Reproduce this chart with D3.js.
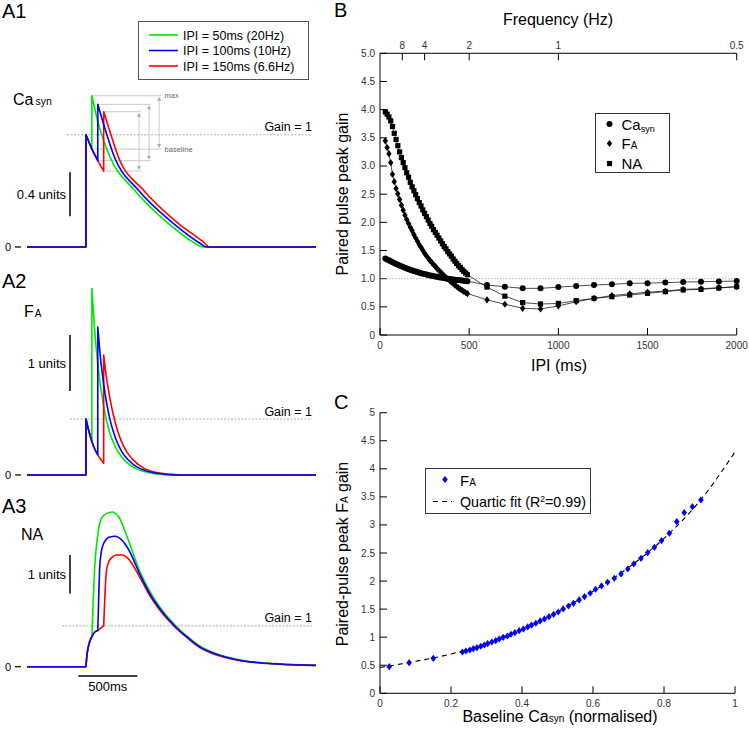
<!DOCTYPE html>
<html><head><meta charset="utf-8">
<script src="https://cdn.jsdelivr.net/npm/d3@7"></script>
<style>body{margin:0;background:#fff}svg{display:block;font-family:Arial,"Liberation Sans",sans-serif}</style>
</head><body><svg id="c" width="749" height="730"></svg>
<script>
// ---------------- DATA ----------------
// Panel A: traces after the first pulse at t=0 (ms), values in units
const ipiA = [50, 100, 150];
const ipiLabels = ["IPI = 50ms (20Hz)", "IPI = 100ms (10Hz)", "IPI = 150ms (6.6Hz)"];
const traceColors = ["#00e600", "#0000ff", "#ff0000"];

const caPre = [[-500, 0], [0, 0]];
const caFirst = [[0, 1.02], [50, 0.89], [100, 0.785], [150, 0.69]];
const caSecond = [
  [[50, 1.375], [104, 1.125], [203, 0.821], [409, 0.518], [697, 0.215], [924, 0.034], [994, 0], [1950, 0]],
  [[100, 1.297], [147, 1.125], [240, 0.821], [443, 0.518], [740, 0.215], [966, 0.034], [1019, 0], [1950, 0]],
  [[150, 1.23], [200, 1.06], [274, 0.821], [486, 0.518], [782, 0.215], [1008, 0.034], [1045, 0], [1950, 0]]
];
const caGain = 1.02;

const faPre = [[-500, 0], [0, 0]];
const faFirst = [[0, 1.0], [25, 0.78], [50, 0.60], [75, 0.46], [100, 0.36], [125, 0.28], [150, 0.21]];
const faSecond = [
  [[50, 3.33], [75, 2.55], [100, 1.98], [150, 1.22], [200, 0.76], [250, 0.50], [300, 0.33], [400, 0.14], [500, 0.06], [600, 0.02], [750, 0], [1950, 0]],
  [[100, 2.64], [125, 2.05], [150, 1.62], [200, 1.02], [250, 0.66], [300, 0.43], [400, 0.19], [500, 0.08], [600, 0.03], [750, 0], [1950, 0]],
  [[150, 2.14], [175, 1.72], [200, 1.40], [250, 0.92], [300, 0.60], [350, 0.40], [400, 0.27], [500, 0.11], [600, 0.045], [750, 0.01], [900, 0], [1950, 0]]
];
const faGain = 1.0;

const naPre = [[-500, 0], [0, 0]];
const naFirst = [[0, 0], [8, 0.3], [20, 0.52], [35, 0.68], [50, 0.78], [75, 0.9], [100, 0.94], [125, 1.0], [150, 1.06]];
const naSecond = [
  [[50, 0.78], [60, 1.6], [70, 2.35], [80, 2.85], [95, 3.3], [115, 3.7], [150, 3.93], [220, 4.02], [280, 3.88], [360, 3.28], [460, 2.45], [550, 1.91], [630, 1.53], [771, 1.03], [870, 0.76], [968, 0.53], [1100, 0.34], [1250, 0.21], [1393, 0.13], [1600, 0.08], [1816, 0.05], [1950, 0.04]],
  [[100, 0.94], [107, 1.7], [115, 2.5], [125, 2.88], [150, 3.2], [200, 3.37], [248, 3.39], [300, 3.3], [360, 3.05], [460, 2.38], [550, 1.85], [630, 1.49], [771, 1.0], [870, 0.74], [968, 0.51], [1100, 0.33], [1250, 0.2], [1393, 0.125], [1600, 0.075], [1816, 0.045], [1950, 0.035]],
  [[150, 1.06], [160, 1.8], [172, 2.45], [190, 2.7], [220, 2.84], [260, 2.9], [305, 2.9], [360, 2.8], [460, 2.3], [550, 1.80], [630, 1.45], [771, 0.98], [870, 0.72], [968, 0.49], [1100, 0.31], [1250, 0.19], [1393, 0.12], [1600, 0.07], [1816, 0.04], [1950, 0.03]]
];
const naGain = 1.06;

// Panel B: paired pulse peak gain vs IPI
const ipiDense = [30,40,50,60,70,80,90,100,110,120,130,140,150,160,170,180,190,200,210,220,230,240,250,260,270,280,290,300,310,320,330,340,350,360,370,380,390,400,410,420,430,440,450,460,470,480,490];
const ipiSparse = [600,700,800,900,1000,1100,1200,1300,1400,1500,1600,1700,1800,1900,2000];
const caDense = [1.360,1.342,1.325,1.308,1.292,1.276,1.261,1.247,1.233,1.219,1.206,1.193,1.181,1.169,1.158,1.147,1.136,1.126,1.116,1.107,1.098,1.089,1.081,1.073,1.065,1.058,1.051,1.044,1.038,1.032,1.026,1.020,1.015,1.010,1.005,1.000,0.995,0.991,0.986,0.982,0.978,0.974,0.970,0.966,0.962,0.958,0.955];
const faDense = [3.446,3.326,3.219,3.059,2.852,2.721,2.602,2.506,2.406,2.305,2.216,2.127,2.050,1.979,1.913,1.854,1.783,1.722,1.663,1.604,1.556,1.503,1.449,1.408,1.365,1.324,1.289,1.248,1.217,1.182,1.146,1.116,1.080,1.052,1.021,0.998,0.968,0.938,0.914,0.884,0.861,0.838,0.813,0.795,0.772,0.754,0.736];
const naDense = [3.96,3.92,3.87,3.80,3.70,3.58,3.47,3.36,3.25,3.15,3.06,2.97,2.88,2.80,2.71,2.63,2.56,2.49,2.42,2.35,2.29,2.22,2.16,2.10,2.04,1.98,1.93,1.87,1.82,1.77,1.72,1.67,1.62,1.57,1.53,1.48,1.44,1.40,1.35,1.31,1.27,1.23,1.20,1.16,1.13,1.10,1.07];
const caSparse = [0.887,0.857,0.828,0.828,0.85,0.87,0.887,0.90,0.917,0.92,0.93,0.94,0.946,0.95,0.958];
const faSparse = [0.624,0.546,0.474,0.462,0.515,0.59,0.65,0.70,0.73,0.76,0.78,0.81,0.82,0.84,0.857];
const naSparse = [0.85,0.69,0.575,0.55,0.56,0.61,0.65,0.68,0.71,0.74,0.77,0.80,0.81,0.834,0.857];
const freqLabels = ["8", "4", "2", "1", "0.5"];
const freqIPI = [125, 250, 500, 1000, 2000];
const bYTicks = [0,0.5,1,1.5,2,2.5,3,3.5,4,4.5,5];
const bXTicks = [0,500,1000,1500,2000];

// Panel C: F_A gain vs baseline Ca_syn (normalised)
const baselineDense = [0.904,0.880,0.857,0.836,0.815,0.793,0.773,0.754,0.735,0.715,0.698,0.679,0.660,0.641,0.624,0.607,0.592,0.576,0.561,0.545,0.531,0.516,0.502,0.489,0.476,0.463,0.451,0.439,0.427,0.416,0.404,0.392,0.380,0.369,0.359,0.347,0.336,0.326,0.315,0.303,0.294,0.284,0.273,0.263,0.253,0.242,0.232];
const baselineSparse = [0.150, 0.082, 0.026];
const fitX = [0,0.1,0.2,0.3,0.4,0.5,0.6,0.7,0.8,0.9,1.0];
const fitY = [0.46,0.57,0.70,0.875,1.13,1.45,1.82,2.24,2.76,3.42,4.30];
const cYTicks = [0,0.5,1,1.5,2,2.5,3,3.5,4,4.5,5];
const cXTicks = [0,0.2,0.4,0.6,0.8,1];

// ---------------- DRAW ----------------
const svg = d3.select("#c");
const txt = (x, y, s, size, opts = {}) => {
  const t = svg.append("text").attr("x", x).attr("y", y).attr("font-size", size)
    .attr("fill", opts.fill || "#000").attr("text-anchor", opts.anchor || "start").text(s);
  if (opts.baseline) t.attr("dominant-baseline", opts.baseline);
  return t;
};

// ---- Panel A ----
const xA = d3.scaleLinear().domain([-500, 1950]).range([27, 316]);
const yA1 = d3.scaleLinear().domain([0, 1]).range([247, 137]);
const yA2 = d3.scaleLinear().domain([0, 1]).range([475, 419]);
const yA3 = d3.scaleLinear().domain([0, 1]).range([666.7, 628.2]);

function segPath(pts, ys, curve) {
  return d3.line().x(d => xA(d[0])).y(d => ys(d[1])).curve(curve)(pts);
}
function tracePath(segs, ys) {
  return segs.map((s, i) => { const p = segPath(s[0], ys, s[1]); return i ? p.replace(/^M/, "L") : p; }).join("");
}
function drawTraces(pre, first, second, ys, firstCurve) {
  [0, 2, 1].forEach(i => {
    const ipi = ipiA[i];
    const segs = [[pre, d3.curveLinear], [first.filter(d => d[0] <= ipi), firstCurve], [second[i], d3.curveMonotoneX]];
    svg.append("path").attr("d", tracePath(segs, ys)).attr("fill", "none")
      .attr("stroke", traceColors[i]).attr("stroke-width", 1.6).attr("stroke-linejoin", "round");
  });
}
function gainLine(ys, v, x0) {
  svg.append("line").attr("x1", x0).attr("x2", 312).attr("y1", ys(v)).attr("y2", ys(v))
    .attr("stroke", "#888").attr("stroke-width", 0.7).attr("stroke-dasharray", "2,1.5");
  txt(312, ys(v) - 3.5, "Gain = 1", 12.5, { anchor: "end" });
}
function zeroLabel(ys) {
  txt(5, ys(0) + 4, "0", 11);
  svg.append("line").attr("x1", 15).attr("x2", 21).attr("y1", ys(0)).attr("y2", ys(0)).attr("stroke", "#000").attr("stroke-width", 1.2);
}
function scaleBar(ys, v0, v1, label) {
  svg.append("line").attr("x1", 70).attr("x2", 70).attr("y1", ys(v0)).attr("y2", ys(v1)).attr("stroke", "#000").attr("stroke-width", 1.5);
  txt(66, (ys(v0) + ys(v1)) / 2 + 4.5, label, 13, { anchor: "end" });
}

// A1
txt(2, 18, "A1", 20);
gainLine(yA1, caGain, 67);
// annotation (max / baseline arrows)
const arrowT = [620, 535, 450];
[0, 1, 2].forEach(i => {
  const ipi = ipiA[i];
  const peak = caSecond[i][0][1];
  const base = caFirst.find(d => d[0] === ipi)[1];
  const xs = xA(ipi), xe = xA(arrowT[i]);
  const g = svg.append("g").attr("stroke", "#bbb").attr("stroke-width", 0.8);
  g.append("line").attr("x1", xs).attr("x2", xe + 2).attr("y1", yA1(peak)).attr("y2", yA1(peak));
  g.append("line").attr("x1", xs).attr("x2", xe + 2).attr("y1", yA1(base)).attr("y2", yA1(base));
  g.append("line").attr("x1", xe).attr("x2", xe).attr("y1", yA1(peak) + 2).attr("y2", yA1(base) - 2);
  const yt = yA1(peak), yb = yA1(base);
  svg.append("path").attr("d", `M${xe},${yt + 1}L${xe - 2},${yt + 5}L${xe + 2},${yt + 5}Z`).attr("fill", "#aaa");
  svg.append("path").attr("d", `M${xe},${yb - 1}L${xe - 2},${yb - 5}L${xe + 2},${yb - 5}Z`).attr("fill", "#aaa");
});
txt(xA(arrowT[0]) + 5.5, yA1(caSecond[0][0][1]) + 2.5, "max", 7.5, { fill: "#666" });
txt(xA(arrowT[0]) + 5.5, yA1(caFirst.find(d => d[0] === 50)[1]) + 2.5, "baseline", 7.5, { fill: "#666" });
drawTraces(caPre, caFirst, caSecond, yA1, d3.curveLinear);
zeroLabel(yA1);
scaleBar(yA1, 0.28, 0.68, "0.4 units");
const lab1 = txt(13, 105, "Ca", 16);
lab1.append("tspan").attr("font-size", 10.5).attr("dx", 2).text("syn");

// legend A
svg.append("rect").attr("x", 138.5).attr("y", 21.5).attr("width", 170).attr("height", 58)
  .attr("fill", "#fff").attr("stroke", "#555").attr("stroke-width", 1);
[0, 1, 2].forEach(i => {
  const y = 35 + i * 15.5;
  svg.append("line").attr("x1", 149).attr("x2", 178).attr("y1", y).attr("y2", y).attr("stroke", traceColors[i]).attr("stroke-width", 1.6);
  txt(183, y + 4.5, ipiLabels[i], 12.5);
});

// A2
txt(2, 288, "A2", 20);
gainLine(yA2, faGain, 70);
drawTraces(faPre, faFirst, faSecond, yA2, d3.curveMonotoneX);
zeroLabel(yA2);
scaleBar(yA2, 1.5, 2.5, "1 units");
const lab2 = txt(24, 317, "F", 16);
lab2.append("tspan").attr("font-size", 10).attr("dx", 1).text("A");

// A3
txt(2, 513, "A3", 20);
gainLine(yA3, naGain, 62);
drawTraces(naPre, naFirst, naSecond, yA3, d3.curveMonotoneX);
zeroLabel(yA3);
scaleBar(yA3, 1.9, 2.9, "1 units");
txt(21, 540, "NA", 16);
svg.append("line").attr("x1", xA(-65)).attr("x2", xA(435)).attr("y1", 676).attr("y2", 676).attr("stroke", "#000").attr("stroke-width", 1.5);
txt((xA(-65) + xA(435)) / 2, 691, "500ms", 13, { anchor: "middle" });

// ---- Panel B ----
const xB = d3.scaleLinear().domain([0, 2000]).range([380, 736.7]);
const yB = d3.scaleLinear().domain([0, 5]).range([335, 53.3]);
txt(334, 17, "B", 20);
const axB = svg.append("g").attr("stroke", "#000").attr("stroke-width", 1);
axB.append("line").attr("x1", xB(0)).attr("x2", xB(0)).attr("y1", yB(0)).attr("y2", yB(5));
axB.append("line").attr("x1", xB(0)).attr("x2", xB(2000)).attr("y1", yB(0)).attr("y2", yB(0));
axB.append("line").attr("x1", xB(0)).attr("x2", xB(2000)).attr("y1", yB(5)).attr("y2", yB(5));
bYTicks.forEach(v => {
  axB.append("line").attr("x1", xB(0)).attr("x2", xB(0) + 7).attr("y1", yB(v)).attr("y2", yB(v));
  txt(375, yB(v) + 3.5, v === 0 ? "0" : v.toFixed(1), 10, { anchor: "end", fill: "#333" });
});
bXTicks.forEach(v => {
  axB.append("line").attr("x1", xB(v)).attr("x2", xB(v)).attr("y1", yB(0)).attr("y2", yB(0) - 7);
  txt(xB(v), 349, String(v), 10, { anchor: "middle", fill: "#333" });
});
freqIPI.forEach((v, i) => {
  axB.append("line").attr("x1", xB(v)).attr("x2", xB(v)).attr("y1", yB(5)).attr("y2", yB(5) + 7);
  txt(xB(v), 48.5, freqLabels[i], 10, { anchor: "middle", fill: "#333" });
});
svg.append("line").attr("x1", xB(0)).attr("x2", xB(2000)).attr("y1", yB(1)).attr("y2", yB(1))
  .attr("stroke", "#999").attr("stroke-width", 0.7).attr("stroke-dasharray", "1.5,1.5");
txt(558, 25, "Frequency (Hz)", 16, { anchor: "middle" });
txt(559, 371, "IPI (ms)", 16, { anchor: "middle" });
txt(0, 0, "Paired pulse peak gain", 16, { anchor: "middle" }).attr("transform", "translate(348,194) rotate(-90)");

const ipiAll = ipiDense.concat(ipiSparse);
const seriesB = [
  { vals: caDense.concat(caSparse), shape: "circle" },
  { vals: faDense.concat(faSparse), shape: "diamond" },
  { vals: naDense.concat(naSparse), shape: "square" }
];
const diamond = (cx, cy, hw, hh) => `M${cx},${cy - hh}L${cx + hw},${cy}L${cx},${cy + hh}L${cx - hw},${cy}Z`;
function marker(g, shape, cx, cy, fill) {
  if (shape === "circle") g.append("circle").attr("cx", cx).attr("cy", cy).attr("r", 3).attr("fill", fill);
  else if (shape === "diamond") g.append("path").attr("d", diamond(cx, cy, 2.7, 3.6)).attr("fill", fill);
  else g.append("rect").attr("x", cx - 2.6).attr("y", cy - 2.6).attr("width", 5.2).attr("height", 5.2).attr("fill", fill);
}
const lineB = d3.line().x(d => xB(d[0])).y(d => yB(d[1]));
seriesB.forEach(s => {
  svg.append("path").attr("d", lineB(ipiAll.map((t, i) => [t, s.vals[i]]))).attr("fill", "none")
    .attr("stroke", "#000").attr("stroke-width", 0.7);
});
seriesB.slice().reverse().forEach(s => {
  const g = svg.append("g");
  ipiAll.forEach((t, i) => marker(g, s.shape, xB(t), yB(s.vals[i]), "#000"));
});
// legend B
svg.append("rect").attr("x", 595.5).attr("y", 113.5).attr("width", 74).attr("height", 59)
  .attr("fill", "#fff").attr("stroke", "#333").attr("stroke-width", 1);
const lgB = svg.append("g");
marker(lgB, "circle", 609.5, 124, "#000");
marker(lgB, "diamond", 609.5, 143.5, "#000");
marker(lgB, "square", 609.5, 163.5, "#000");
const lb1 = txt(621.5, 129.5, "Ca", 15);
lb1.append("tspan").attr("font-size", 9).attr("dy", 2.5).text("syn");
const lb2 = txt(621.5, 149, "F", 15);
lb2.append("tspan").attr("font-size", 10).text("A");
txt(621.5, 168.5, "NA", 15);

// ---- Panel C ----
const xC = d3.scaleLinear().domain([0, 1]).range([380, 735]);
const yC = d3.scaleLinear().domain([0, 5]).range([693.3, 412.7]);
txt(334, 409, "C", 20);
const axC = svg.append("g").attr("stroke", "#000").attr("stroke-width", 1);
axC.append("line").attr("x1", xC(0)).attr("x2", xC(0)).attr("y1", yC(0)).attr("y2", yC(5));
axC.append("line").attr("x1", xC(0)).attr("x2", xC(1)).attr("y1", yC(0)).attr("y2", yC(0));
cYTicks.forEach(v => {
  axC.append("line").attr("x1", xC(0)).attr("x2", xC(0) + 7).attr("y1", yC(v)).attr("y2", yC(v));
  txt(375, yC(v) + 3.5, String(v), 10, { anchor: "end", fill: "#333" });
});
cXTicks.forEach(v => {
  axC.append("line").attr("x1", xC(v)).attr("x2", xC(v)).attr("y1", yC(0)).attr("y2", yC(0) - 7);
  txt(xC(v), 707, String(v), 10, { anchor: "middle", fill: "#333" });
});
const cx1 = txt(560, 722, "Baseline Ca", 16, { anchor: "middle" });
cx1.append("tspan").attr("font-size", 10).text("syn");
cx1.append("tspan").text(" (normalised)");
const cy1 = txt(0, 0, "Paired-pulse peak F", 16, { anchor: "middle" }).attr("transform", "translate(348,554) rotate(-90)");
cy1.append("tspan").attr("font-size", 10).text("A");
cy1.append("tspan").text(" gain");

svg.append("path").attr("d", d3.line().x(d => xC(d[0])).y(d => yC(d[1])).curve(d3.curveMonotoneX)(fitX.map((x, i) => [x, fitY[i]])))
  .attr("fill", "none").attr("stroke", "#000").attr("stroke-width", 1.1).attr("stroke-dasharray", "5,4");
const cPts = baselineDense.map((b, i) => [b, faDense[i]]).concat(baselineSparse.map((b, i) => [b, faSparse[i]]));
const gC = svg.append("g");
cPts.forEach(p => gC.append("path").attr("d", diamond(xC(p[0]), yC(p[1]), 2.8, 3.6)).attr("fill", "#0000ff"));
// legend C
svg.append("rect").attr("x", 425.5).attr("y", 468.5).attr("width", 165).attr("height", 45)
  .attr("fill", "#fff").attr("stroke", "#333").attr("stroke-width", 1);
svg.append("path").attr("d", diamond(445, 479.5, 2.8, 3.6)).attr("fill", "#0000ff");
const lc1 = txt(460, 485.5, "F", 15);
lc1.append("tspan").attr("font-size", 10).text("A");
svg.append("line").attr("x1", 433).attr("x2", 452).attr("y1", 501.5).attr("y2", 501.5)
  .attr("stroke", "#000").attr("stroke-width", 1.1).attr("stroke-dasharray", "5,4");
const lc2 = txt(460, 506.5, "Quartic fit (R", 14.3);
lc2.append("tspan").attr("font-size", 8.5).attr("dy", -5).text("2");
lc2.append("tspan").attr("dy", 5).text("=0.99)");
</script></body></html>
